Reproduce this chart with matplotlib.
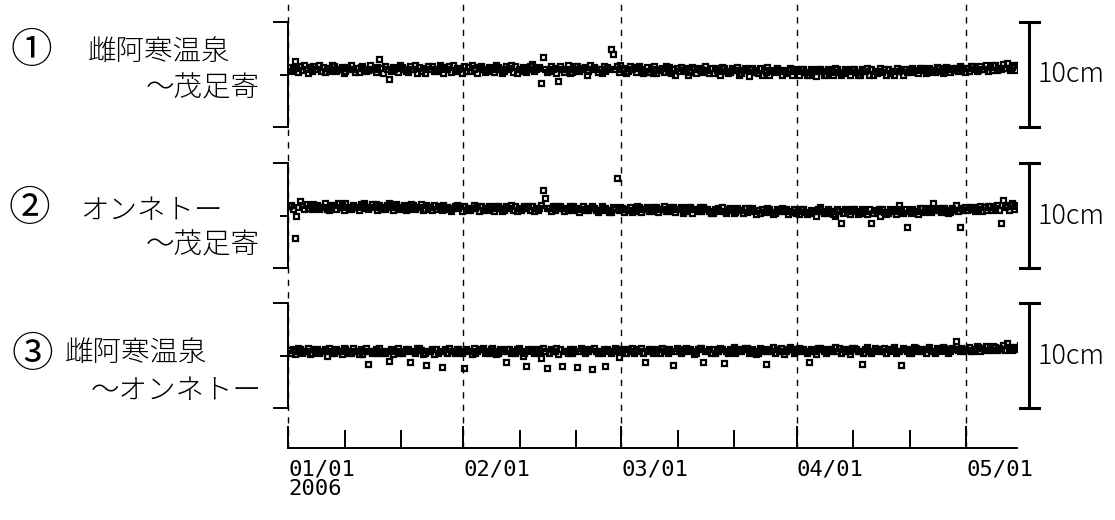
import numpy as np
import pandas as pd
import matplotlib
matplotlib.use('Agg')
import matplotlib.pyplot as plt
from matplotlib.transforms import blended_transform_factory

plt.rcParams['font.family'] = ['Noto Sans CJK JP', 'DejaVu Sans']

# ---------------- data (mm, 3 samples per day, 2006-01-01 .. 2006-05-10) -------------
panel_labels = [("①", "雌阿寒温泉", "～茂足寄"),
                ("②", "オンネトー", "～茂足寄"),
                ("③", "雌阿寒温泉", "～オンネトー")]

tick_dates = ["2006-01-01", "2006-02-01", "2006-03-01", "2006-04-01", "2006-05-01"]
tick_labels = ["01/01\n2006", "02/01", "03/01", "04/01", "05/01"]
minor_dates = ["2006-01-11", "2006-01-21", "2006-02-11", "2006-02-21",
               "2006-03-11", "2006-03-21", "2006-04-11", "2006-04-21"]

baseline1 = [
    7,3,5, 13,6,2, 8,4,9, 5,1,7, 3,8,5,
    5,9,3, 7,2,6, 3,5,9, 8,3,5, 5,7,1,
    3,7,5, 9,5,2, 6,2,7, 8,5,3, 4,9,5,
    5,2,7, 15,6,1, 8,5,-4, 3,7,5, 6,2,9,
    7,5,3, 2,8,5, 5,9,1, 7,3,6, 1,5,8,
    5,8,3, 3,5,9, 7,1,5, 5,8,2, 9,3,6,
    5,6,1, 8,3,7, 3,9,5, 6,1,7, 8,5,2,
    3,7,5, 5,2,9, 7,5,1, 3,8,5, 6,9,2,
    8,1,5, 5,7,3, 2,5,8, 10,3,5, 6,7,-8,
    17,5,2, 3,8,5, 6,1,-6, 8,5,2, 5,9,1,
    2,5,8, 8,3,5, 6,7,0, 3,9,5, 7,5,2,
    5,1,8, 3,7,5, 24,20,5, 8,2,9, 5,6,1,
    3,8,5, 6,2,7, 8,5,1, 3,7,2, 5,1,8,
    1,5,4, 6,2,8, 3,7,1, 5,0,6, 3,7,4,
    6,3,0, 2,7,5, 1,6,4, 5,2,8, 4,1,6,
    1,6,4, 3,0,7, 6,3,1, 2,6,4, 4,7,0,
    1,4,6, 4,-1,5, 6,2,4, 1,6,0, 4,2,7,
    0,4,3, 2,6,4, 4,0,3, 1,4,6, 0,3,5,
    3,0,5, 5,2,0, 0,5,3, 3,-1,5, 5,3,0,
    0,5,3, 2,0,6, 5,2,0, 1,5,3, 3,0,5,
    5,2,0, 0,5,3, 3,6,0, 5,0,3, 1,3,6,
    2,5,0, 5,1,3, 0,3,6, 3,5,0, 5,2,4,
    2,6,4, 4,1,6, 6,4,1, 2,6,4, 4,2,7,
    6,3,1, 4,7,5, 2,6,4, 6,3,8, 4,6,2,
    6,3,8, 8,5,3, 4,8,5, 5,9,3, 7,4,9,
    9,4,6, 5,10,6, 11,6,4, 7,9,4, 9,5,10,
]

baseline2 = [
    9,10,6, -21,0,8, 14,10,6, 11,7,10, 6,11,8,
    10,6,8, 8,12,6, 5,8,10, 10,6,12, 8,10,5,
    12,8,6, 6,10,8, 8,5,11, 10,12,7, 6,8,11,
    8,11,5, 10,6,8, 6,10,12, 8,5,10, 11,8,6,
    8,10,5, 6,8,11, 10,6,8, 8,11,5, 6,10,8,
    8,5,10, 6,9,7, 5,10,8, 8,6,4, 7,9,10,
    7,9,4, 9,5,7, 5,7,10, 7,9,4, 9,5,7,
    5,9,7, 7,4,9, 9,7,4, 5,9,7, 7,10,5,
    9,4,7, 5,7,9, 7,9,5, 9,4,7, 5,7,10,
    24,17,7, 7,4,9, 5,9,7, 9,7,4, 7,5,9,
    5,9,7, 7,3,6, 9,5,7, 5,7,9, 7,5,3,
    5,9,7, 7,5,3, 3,8,6, 36,5,8, 7,3,6,
    5,8,3, 4,6,9, 8,3,6, 6,8,4, 4,6,8,
    8,3,6, 6,9,4, 4,6,8, 8,3,6, 6,8,2,
    4,6,8, 8,2,6, 6,4,8, 4,8,6, 6,4,2,
    2,6,5, 7,4,8, 4,2,6, 7,5,2, 3,7,5,
    5,2,7, 3,7,5, 7,4,1, 5,2,6, 3,5,7,
    6,3,1, 2,6,4, 4,7,5, 6,1,4, 3,6,2,
    4,1,6, 6,3,1, 2,5,4, 4,0,6, 8,4,2,
    2,6,4, 4,1,0, 6,4,-7, 2,6,4, 4,1,6,
    6,4,1, 2,6,4, 4,1,6, -7,2,5, 4,6,0,
    6,3,1, 2,6,4, 4,1,6, 10,4,2, 6,-11,4,
    2,6,4, 4,1,7, 7,3,5, 5,7,3, 12,5,7,
    5,3,7, 7,5,2, 3,7,5, 10,4,-11, 7,5,8,
    5,8,6, 8,4,6, 6,9,4, 8,5,9, 9,5,8,
    7,10,5, -7,15,8, 9,5,10, 12,6,9, 10,7,11,
]

baseline3 = [
    5,2,6, 1,4,7, 6,2,4, 4,7,1, 2,6,4,
    6,2,4, 4,6,0, 7,4,2, 2,6,4, 4,1,7,
    6,4,2, 2,7,4, 4,1,6, 1,4,7, -8,4,2,
    4,6,2, 7,2,4, 2,4,-5, 6,1,4, 4,7,2,
    2,4,6, 6,-6,4, 4,2,7, 7,5,1, 2,-9,4,
    4,6,1, 6,2,4, -11,4,6, 2,7,4, 4,2,6,
    6,4,2, -12,6,4, 4,1,7, 2,4,6, 6,7,2,
    4,2,6, 7,4,1, 2,6,4, 4,-6,6, 6,2,4,
    2,6,7, 4,0,2, -10,6,4, 6,2,4, 4,6,-2,
    7,4,-12, 2,6,4, 4,7,1, 6,-10,4, 4,2,6,
    2,6,4, -11,4,7, 6,2,4, 4,6,-13, 7,4,2,
    4,2,6, -10,6,4, 2,4,7, 6,-1,4, 4,6,2,
    6,4,7, 2,6,4, 4,7,2, -6,4,6, 6,2,4,
    4,6,2, 7,4,6, 2,6,4, -9,4,7, 6,2,4,
    4,7,6, 6,4,1, 2,6,7, 7,-6,4, 4,6,2,
    6,2,4, 4,7,6, -7,4,2, 6,4,8, 2,6,4,
    4,6,7, 7,2,4, 6,4,1, 2,7,6, 4,-8,4,
    6,4,8, 2,6,4, 7,4,1, 4,6,8, 6,2,4,
    4,7,6, 6,4,2, -6,6,4, 4,1,7, 7,6,4,
    2,6,4, 6,4,8, 4,7,2, 6,4,6, 4,1,7,
    7,6,4, 4,-8,2, 6,8,4, 2,4,7, 6,5,4,
    4,7,2, 6,4,6, 8,2,4, 4,-9,7, 6,4,2,
    2,6,8, 7,4,6, 4,6,2, 6,8,4, 4,2,7,
    6,4,8, 7,6,2, 4,7,6, 14,5,4, 7,4,6,
    5,8,4, 4,6,9, 8,4,7, 5,9,5, 7,5,9,
    8,5,7, 6,10,5, 12,6,8, 5,8,6, 7,10,5,
]

series = [baseline1, baseline2, baseline3]
times = pd.date_range("2006-01-01 04:00", periods=len(baseline1), freq="8h")

# ---------------- layout -------------------------------------------------------------
W, H = 1115, 520
fig = plt.figure(figsize=(W / 100, H / 100), dpi=100)
x0_px, x1_px = 288, 1017
xlim = (pd.Timestamp("2006-01-01"), pd.Timestamp("2006-05-10"))

def rect(left, top, right, bottom):
    return [left / W, 1 - bottom / H, (right - left) / W, (bottom - top) / H]

LW = 1.4

# background axes: dashed month lines + time axis
bg = fig.add_axes(rect(x0_px, 2, x1_px, 448))
bg.set_facecolor('none')
bg.set_xlim(*xlim)
bg.set_ylim(0, 1)
for s in ['top', 'right', 'left']:
    bg.spines[s].set_visible(False)
bg.spines['bottom'].set_linewidth(LW)
bg.set_yticks([])
for d in tick_dates:
    bg.axvline(pd.Timestamp(d), color='black', lw=1.0, ls=(0, (4.5, 4.5)), clip_on=False)
bg.set_xticks([pd.Timestamp(d) for d in tick_dates])
bg.set_xticks([pd.Timestamp(d) for d in minor_dates], minor=True)
bg.set_xticklabels(tick_labels, ha='left', fontsize=16, family='DejaVu Sans Mono',
                   linespacing=1.0)
bg.tick_params(axis='x', which='major', direction='in', length=15.8, width=LW, pad=8)
bg.tick_params(axis='x', which='minor', direction='in', length=13, width=LW)

panel_tops = [22, 163, 303]
text_pos = [
    ((31, 51), (88, 52), (260, 88)),
    ((29, 210), (80, 211), (260, 245)),
    ((32, 355), (65, 353), (262, 391)),
]

for i, (top, vals) in enumerate(zip(panel_tops, series)):
    ax = fig.add_axes(rect(x0_px, top, x1_px, top + 105))
    ax.set_facecolor('none')
    ax.set_xlim(*xlim)
    ax.set_ylim(-5, 5)
    for s in ['top', 'right', 'bottom']:
        ax.spines[s].set_visible(False)
    ax.spines['left'].set_linewidth(LW)
    ax.set_xticks([])
    ax.set_yticks([-5, 5])
    ax.set_yticks([0], minor=True)
    ax.set_yticklabels([])
    ax.tick_params(axis='y', which='major', direction='out', length=10.8, width=LW)
    ax.tick_params(axis='y', which='minor', direction='out', length=5.8, width=LW)
    ax.plot(times, np.array(vals) / 10.0, ls='none', marker='s', ms=3.6,
            mfc='none', mec='black', mew=1.6, antialiased=False)

    # 10 cm scale bar
    tr = blended_transform_factory(fig.transFigure, ax.transData)
    xb = 1029 / W
    ax.plot([xb, xb], [-5, 5], color='black', lw=2.2, transform=tr, clip_on=False)
    ax.plot([1020 / W, 1039 / W], [5, 5], color='black', lw=2.2, transform=tr, clip_on=False)
    ax.plot([1020 / W, 1039 / W], [-5, -5], color='black', lw=2.2, transform=tr, clip_on=False)
    ax.text(1037 / W, 0, "10cm", transform=tr, ha='left', va='center',
            fontsize=19.5, fontweight='light')

    (cx, cy), (lx, ly), (rx, ry) = text_pos[i]
    circ, l1, l2 = panel_labels[i]
    fig.text(cx / W, 1 - cy / H, circ, ha='center', va='center', fontsize=30)
    fig.text(lx / W, 1 - ly / H, l1, ha='left', va='center', fontsize=20.5, fontweight='light')
    fig.text(rx / W, 1 - ry / H, l2, ha='right', va='center', fontsize=20.5, fontweight='light')

fig.savefig("out.png", dpi=100)
